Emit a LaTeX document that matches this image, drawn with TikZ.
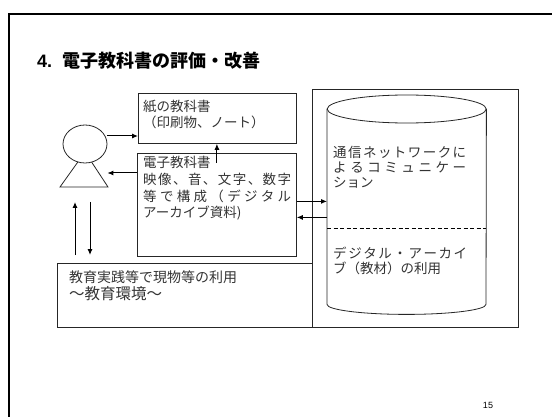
\documentclass[tikz,border=0pt]{standalone}
\usepackage{fontspec}
\setmainfont{Liberation Sans}
\newfontfamily\jp{Noto Sans CJK JP}
\usetikzlibrary{positioning,arrows.meta,shapes.geometric}
\newcommand\spreadto[2]{\makebox[#1][s]{\spreadrun#2\spreadstop}}
\def\spreadstop{}
\def\spreadrun#1#2{#1\ifx#2\spreadstop\else\hfil\expandafter\spreadrun\expandafter#2\fi}
\tikzset{
  box/.style={draw=black!85, line width=0.8pt, inner sep=0pt, anchor=north west},
  jtext/.style={font=\jp\fontsize{13.5}{16}\selectfont, text=black!80, align=left, inner sep=0pt, anchor=base west},
  link/.style={-{Latex[length=6pt,width=5pt]}, line width=1pt}
}
\begin{document}
\begin{tikzpicture}[x=1pt,y=-1pt]
\useasboundingbox (0,0) rectangle (552,417); \clip (0,0) rectangle (552,417);
\draw[line width=2pt] (9,14) rectangle (570,430);
\node[anchor=base west, inner sep=0pt, font=\bfseries\fontsize{18}{20}\selectfont] (title) at (37,68) {4.\hspace{0.55em}{\jp 電子教科書の評価・改善}};
% person
\draw[line width=0.8pt, draw=black!85] (85,152) -- (60,187) -- (108,187) -- cycle;
\node[ellipse, draw=black!85, fill=white, line width=0.8pt, minimum width=44pt, minimum height=38pt, inner sep=0pt] (head) at (85,144) {};
% boxes
\node[box, minimum width=461pt, minimum height=64pt] (env) at (57,263) {};
\node[box, fill=white, minimum width=206pt, minimum height=238pt] (frame) at (312,89) {};
\node[box, minimum width=158pt, minimum height=50pt] (paper) at (138,93) {};
\node[box, minimum width=159pt, minimum height=103pt] (ebook) at (137,153) {};
% cylinder
\node[inner sep=0pt, anchor=north west, minimum width=159pt, minimum height=195pt] (net) at (327,109) {};
\draw[line width=0.8pt, draw=black!85] (net.north west) -- (net.south west) arc[start angle=180, end angle=360, x radius=79.5pt, y radius=10pt] -- (net.north east);
\draw[line width=0.8pt, draw=black!85] (net.north) ellipse [x radius=79.5pt, y radius=14pt];
\draw[line width=0.8pt, dash pattern=on 4pt off 2.5pt] ([yshift=-119pt]net.north west) -- ([yshift=-119pt]net.north east);
% texts (base = last line)
\node[jtext] (papertxt) at (143,128) {紙の教科書\\（印刷物、ノート）};
\node[jtext, font=\jp\fontsize{13.5}{16.5}\selectfont] (ebooktxt) at (143,217.5) {電子教科書\\\spreadto{148pt}{映像、音、文字、数字}\\\spreadto{148pt}{等で構成（デジタル}\\アーカイブ資料)};
\node[jtext, font=\jp\fontsize{13.5}{15}\selectfont] (nettxt) at (333,188) {\spreadto{133pt}{通信ネットワークに}\\\spreadto{133pt}{よるコミュニケー}\\ション};
\node[jtext, font=\jp\fontsize{13.5}{15}\selectfont] (archtxt) at (333,273) {\spreadto{134pt}{デジタル・アーカイ}\\ブ（教材）の利用};
\node[jtext, font=\jp\fontsize{14}{17}\selectfont] (envtxt) at (69,282) {教育実践等で現物等の利用};
\node[jtext, font=\jp\fontsize{15.5}{18}\selectfont] (envsub) at ([yshift=-17.7pt]envtxt.base west) {〜教育環境〜};
% arrows
\draw[link] ([yshift=8pt]head.east) -- ([yshift=8pt]head.east -| paper.west);
\draw[link] ([yshift=-29pt]head.east -| ebook.west) -- ([yshift=-29pt]head.east);
\draw[link] ([yshift=-10pt]ebook.north) -- (ebook.north |- paper.south);
\draw[link] ([yshift=3.5pt]ebook.east) -- ([yshift=3.5pt]ebook.east -| net.west);
\draw[link] ([yshift=-12.5pt]ebook.east -| net.west) -- ([yshift=-12.5pt]ebook.east);
\draw[link] ([xshift=18pt,yshift=8pt]env.north west) -- ++(0,-53);
\draw[link] ([xshift=33pt,yshift=61pt]env.north west) -- ++(0,53);
\node[anchor=base, inner sep=0pt, font=\fontsize{9}{10}\selectfont] (page) at (488,408) {15};
\end{tikzpicture}
\end{document}
